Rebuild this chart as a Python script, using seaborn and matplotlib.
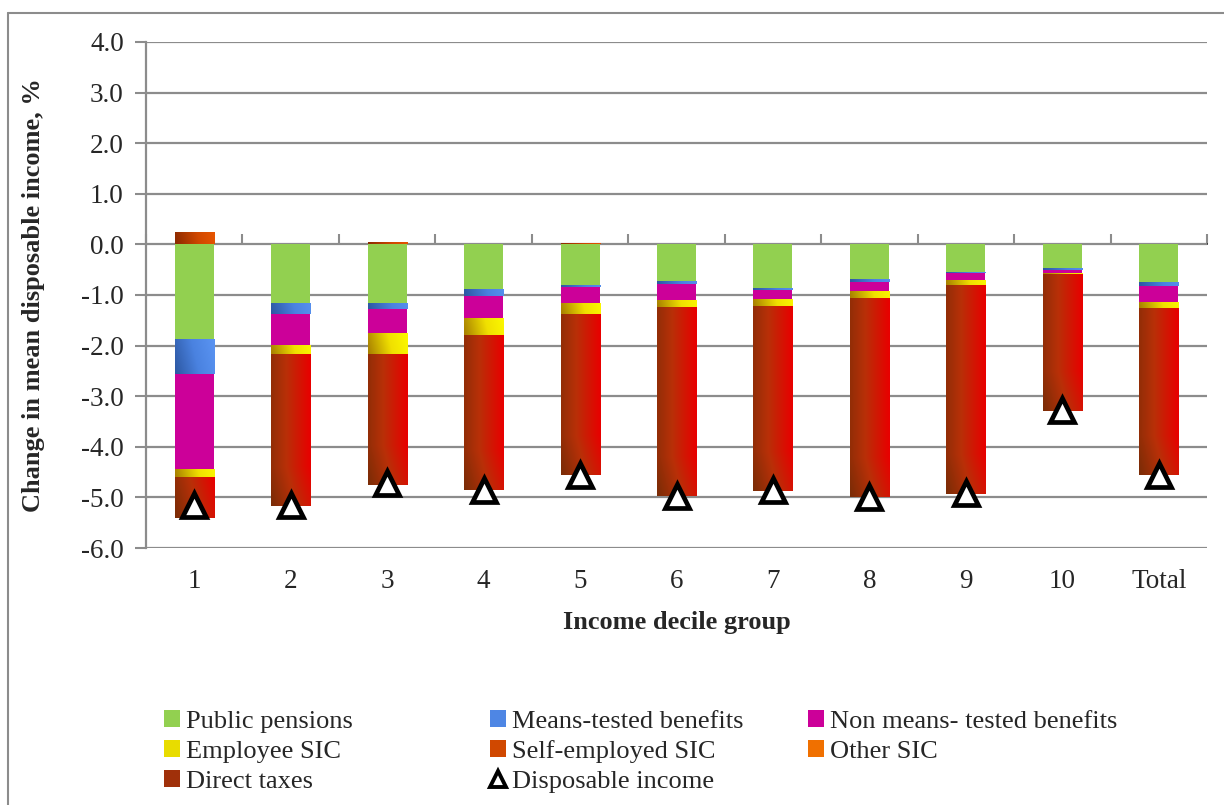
import numpy as np
import pandas as pd
import matplotlib
matplotlib.use("Agg")
import matplotlib.pyplot as plt
from matplotlib.colors import LinearSegmentedColormap
from matplotlib.patches import Patch
from matplotlib.lines import Line2D
import seaborn as sns

# ---- data ----
categories = ["1", "2", "3", "4", "5", "6", "7", "8", "9", "10", "Total"]
public_pensions = [-1.86, -1.15, -1.15, -0.89, -0.81, -0.73, -0.87, -0.69, -0.55, -0.47, -0.75]
means_tested = [-0.71, -0.23, -0.13, -0.12, -0.04, -0.06, -0.04, -0.06, -0.02, -0.04, -0.08]
non_means_tested = [-1.86, -0.60, -0.48, -0.45, -0.30, -0.30, -0.16, -0.18, -0.14, -0.06, -0.30]
employee_sic = [-0.17, -0.19, -0.41, -0.34, -0.23, -0.14, -0.14, -0.12, -0.10, -0.02, -0.13]
self_employed_sic = [0.24, 0.0, 0.04, 0.0, 0.02, 0.0, 0.0, 0.0, 0.0, 0.0, 0.0]
other_sic = [0.0, 0.0, 0.0, 0.0, 0.0, 0.0, 0.0, 0.0, 0.0, 0.0, 0.0]
direct_taxes = [-0.81, -3.00, -2.59, -3.06, -3.18, -3.75, -3.66, -3.95, -4.13, -2.71, -3.30]
disposable_income = [-5.16, -5.15, -4.72, -4.86, -4.55, -4.98, -4.86, -4.99, -4.92, -3.28, -4.55]

y_ticks = [4.0, 3.0, 2.0, 1.0, 0.0, -1.0, -2.0, -3.0, -4.0, -5.0, -6.0]

sns.set_theme(style="white")
plt.rcParams["font.family"] = ["Liberation Serif", "DejaVu Serif"]

W, H = 1224, 805
fig = plt.figure(figsize=(W / 100, H / 100), dpi=100)
ax = fig.add_axes([146 / W, 1 - 548 / H, (1207 - 146) / W, (548 - 42) / H])

green = "#92D050"
magenta = "#CC0099"
bar_w = 0.405

# negative stack: segment values and their bottoms
neg_layers = [
    ("Public pensions", public_pensions, green, None),
    ("Means-tested benefits", means_tested, "#4E86E4", ["#2D58A3", "#4A82E0", "#5B95F3"]),
    ("Non means- tested benefits", non_means_tested, magenta, None),
    ("Employee SIC", employee_sic, "#F0E000", ["#A88000", "#F0E000", "#FFFF00"]),
    ("Direct taxes", direct_taxes, "#C02808", ["#7A2C06", "#B83008", "#E80000"]),
]
self_grad = ["#8B2A00", "#D04800", "#F05A00"]
other_grad = ["#F0A000", "#F06000", "#E02000"]


def add_gradient(p, grad, z):
    if grad is None or abs(p.get_height()) < 1e-6:
        return
    cmap = LinearSegmentedColormap.from_list("g", grad)
    xx, yy = np.meshgrid(np.linspace(0, 1, 40), np.linspace(0, 1, 120))
    hpx = abs(p.get_height()) * 50.6
    wpx = 39.0
    t = np.clip(0.8 * xx + 0.2 * np.minimum(yy * hpx / wpx, 1.0), 0, 1)
    x0 = p.get_x()
    y0 = p.get_y()
    y1 = y0 + p.get_height()
    ytop, ybot = max(y0, y1), min(y0, y1)
    im = ax.imshow(t, cmap=cmap, vmin=0, vmax=1, aspect="auto",
                   extent=[x0, x0 + p.get_width(), ytop, ybot],
                   origin="upper", zorder=z + 0.1, interpolation="bilinear")
    im.set_clip_path(p)


def draw_layer(values, bottoms, color, grad, z=3):
    n0 = len(ax.patches)
    df = pd.DataFrame({"cat": categories, "val": values})
    sns.barplot(data=df, x="cat", y="val", order=categories, color=color,
                width=bar_w, ax=ax, saturation=1, errorbar=None,
                bottom=np.asarray(bottoms, dtype=float), linewidth=0)
    for p in ax.patches[n0:]:
        p.set_zorder(z)
        add_gradient(p, grad, z)


bottom = np.zeros(len(categories))
for _, vals, col, grad in neg_layers:
    draw_layer(vals, bottom, col, grad)
    bottom = bottom + np.asarray(vals)

pos_bottom = np.zeros(len(categories))
draw_layer(self_employed_sic, pos_bottom, "#D04800", self_grad)
pos_bottom = pos_bottom + np.asarray(self_employed_sic)
draw_layer(other_sic, pos_bottom, "#F07000", other_grad)

# disposable income markers
sns.pointplot(x=categories, y=disposable_income, order=categories, ax=ax,
              linestyle="none", marker="^", color="black", markersize=17,
              markerfacecolor="white", markeredgewidth=3.4, errorbar=None)
for ln in ax.lines:
    ln.set_zorder(20)

ax.set_xlim(-0.5, 10.5)
ax.set_ylim(-6.0, 4.0)
ax.set_yticks(y_ticks)
ax.set_yticklabels([f"{v:.1f}" for v in y_ticks], fontsize=19.5)
ax.yaxis.grid(True, color="#8C8C8C", linewidth=1.6)
ax.set_axisbelow(True)
ax.tick_params(axis="y", length=8, width=1.5, color="#8C8C8C", pad=8, left=True)
ax.tick_params(axis="x", length=0, labelsize=19.5, pad=15)

for s in ["top", "right", "bottom"]:
    ax.spines[s].set_visible(False)
ax.spines["left"].set_color("#8C8C8C")
ax.spines["left"].set_linewidth(1.6)

# category axis at zero with boundary ticks
sec = ax.secondary_xaxis(0.6)
sec.set_xticks(np.arange(-0.5, 11, 1.0))
sec.set_xticklabels([])
sec.tick_params(length=7, width=1.5, color="#8C8C8C", direction="out")
sec.spines["bottom"].set_color("#8C8C8C")
sec.spines["bottom"].set_linewidth(1.6)

ax.set_xlabel("Income decile group", fontsize=19, fontweight="bold")
ax.set_ylabel("Change in mean disposable income, %", fontsize=19, fontweight="bold")
ax.xaxis.set_label_coords(0.5, (548 - 611) / 506)
ax.yaxis.set_label_coords((45 - 146) / 1061, 0.5)


def sq(c):
    return Patch(facecolor=c, edgecolor="none")


col1 = [(sq(green), "Public pensions"), (sq("#E8DC00"), "Employee SIC"),
        (sq("#A0300A"), "Direct taxes")]
col2 = [(sq("#4E86E4"), "Means-tested benefits"), (sq("#D04800"), "Self-employed SIC"),
        (Line2D([], [], linestyle="none", marker="^", markersize=12,
                markerfacecolor="white", markeredgecolor="black",
                markeredgewidth=2.8), "Disposable income")]
col3 = [(sq(magenta), "Non means- tested benefits"), (sq("#F07000"), "Other SIC")]

for items, xpix in [(col1, 164), (col2, 490), (col3, 808)]:
    fig.legend([h for h, _ in items], [t for _, t in items],
               loc="upper left", bbox_to_anchor=(xpix / W, 1 - 710 / H),
               frameon=False, fontsize=19, handlelength=0.6,
               handleheight=0.6, handletextpad=0.25, labelspacing=0.28,
               borderpad=0, borderaxespad=0)

# outer border (top and left visible)
fig.add_artist(Line2D([8 / W, 8 / W], [0, 1 - 13 / H], transform=fig.transFigure,
                      color="#8C8C8C", linewidth=1.5))
fig.add_artist(Line2D([8 / W, 1], [1 - 13 / H, 1 - 13 / H], transform=fig.transFigure,
                      color="#8C8C8C", linewidth=1.5))

fig.savefig("out.png", dpi=100, facecolor="white")
